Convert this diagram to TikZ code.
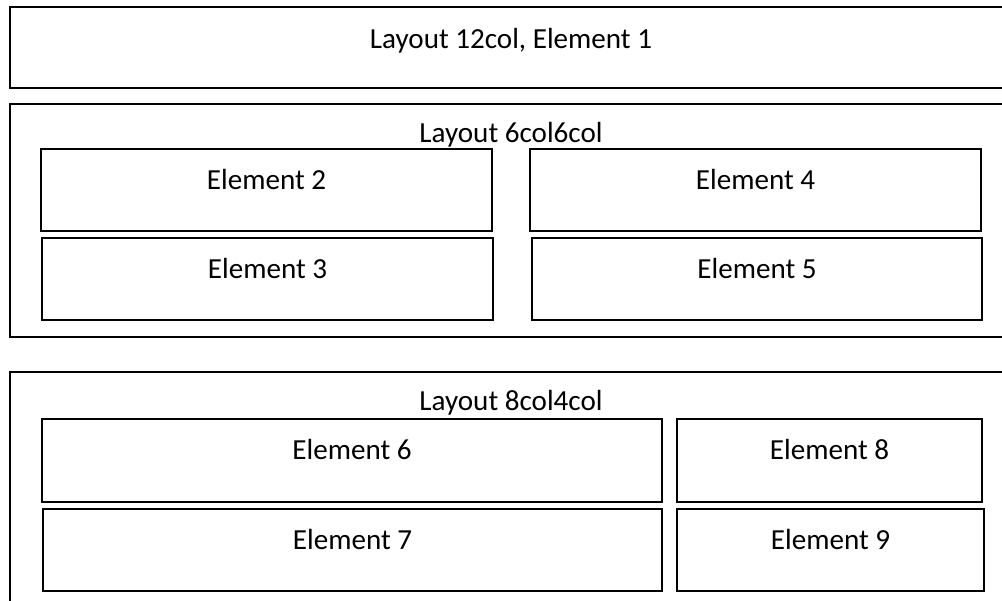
\documentclass[tikz,border=0pt]{standalone}
\usepackage{fontspec}
\setmainfont{Carlito}
\usetikzlibrary{fit}

\tikzset{
  layoutbox/.style={draw,line width=1.5pt,inner sep=0pt},
  elembox/.style={draw,line width=0.9pt,inner sep=0pt},
  boxlabel/.style={anchor=base,inner sep=0pt,font=\fontsize{20.7}{25}\selectfont}
}

\begin{document}
\begin{tikzpicture}[x=0.025cm,y=-0.025cm]
    \useasboundingbox (0,0) rectangle (1002,600);
    \clip (0,0) rectangle (1002,600);
    % layouts
    \node[layoutbox,fit={(10,7) (1012,88)}] (L1) {};
    \node[layoutbox,fit={(10,104) (1012,337)}] (L2) {};
    \node[layoutbox,fit={(10,372) (1012,612)}] (L3) {};
    % elements
    \node[elembox,fit={(41,149) (492,231)}] (E2) {};
    \node[elembox,fit={(42,238) (493,320)}] (E3) {};
    \node[elembox,fit={(530,149) (981,231)}] (E4) {};
    \node[elembox,fit={(532,238) (982,320)}] (E5) {};
    \node[elembox,fit={(42,419) (662,502)}] (E6) {};
    \node[elembox,fit={(43,509) (662,591)}] (E7) {};
    \node[elembox,fit={(677,419) (982,502)}] (E8) {};
    \node[elembox,fit={(677,509) (984,591)}] (E9) {};
    % labels
    \node[boxlabel] (L1t) at ([yshift=-1.07cm]L1.north) {Layout 12col, Element 1};
    \node[boxlabel] (L2t) at ([yshift=-0.98cm]L2.north) {Layout 6col6col};
    \node[boxlabel] (L3t) at ([yshift=-0.98cm]L3.north) {Layout 8col4col};
    \node[boxlabel] (E2t) at ([yshift=-1.02cm]E2.north) {Element 2};
    \node[boxlabel] (E3t) at ([yshift=-1.02cm]E3.north) {Element 3};
    \node[boxlabel] (E4t) at ([yshift=-1.02cm]E4.north) {Element 4};
    \node[boxlabel] (E5t) at ([yshift=-1.02cm]E5.north) {Element 5};
    \node[boxlabel] (E6t) at ([yshift=-1.02cm]E6.north) {Element 6};
    \node[boxlabel] (E7t) at ([yshift=-1.02cm]E7.north) {Element 7};
    \node[boxlabel] (E8t) at ([yshift=-1.02cm]E8.north) {Element 8};
    \node[boxlabel] (E9t) at ([yshift=-1.02cm]E9.north) {Element 9};
\end{tikzpicture}
\end{document}
